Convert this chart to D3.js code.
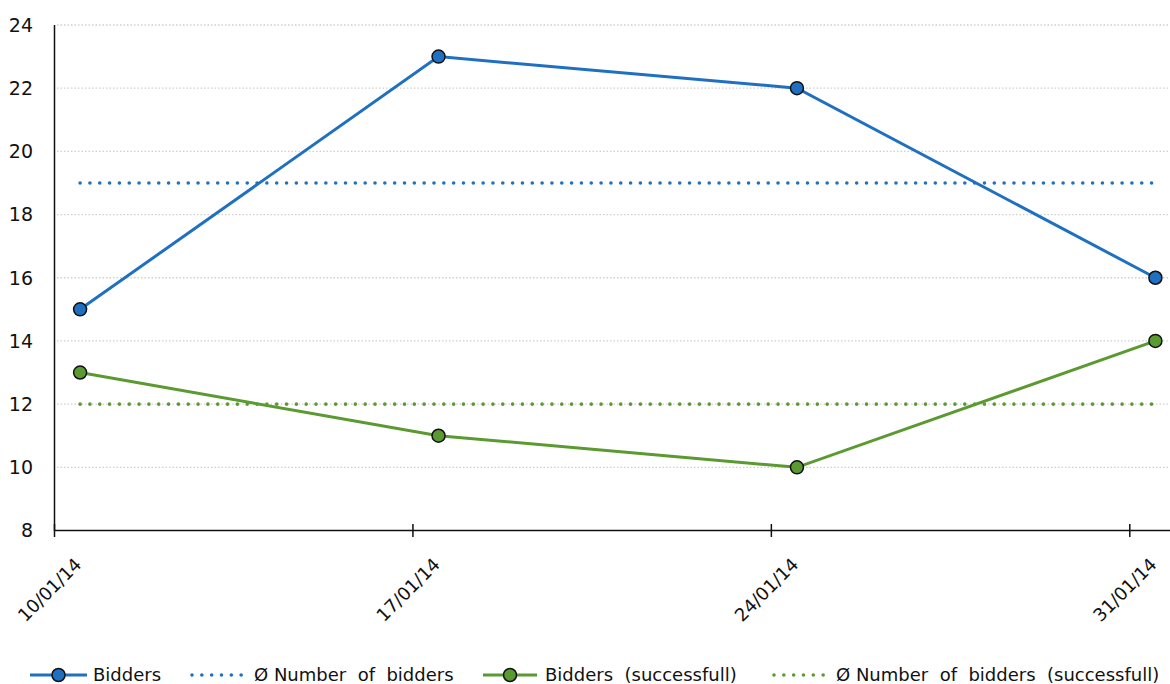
<!DOCTYPE html>
<html>
<head>
<meta charset="utf-8">
<script src="https://cdn.jsdelivr.net/npm/d3@7"></script>
<style>
  html, body { margin: 0; padding: 0; background: #fff; }
  svg { display: block; font-family: "DejaVu Sans", "Liberation Sans", sans-serif; }
</style>
</head>
<body>
<svg id="chart" width="1170" height="684"></svg>
<script>
// ---- data ----
const dates = ["2014-01-10", "2014-01-17", "2014-01-24", "2014-01-31"];
const dateLabels = ["10/01/14", "17/01/14", "24/01/14", "31/01/14"];
const bidders = [15, 23, 22, 16];
const biddersSuccessful = [13, 11, 10, 14];
const avgBidders = 19;
const avgBiddersSuccessful = 12;
const yTicks = [8, 10, 12, 14, 16, 18, 20, 22, 24];
const legendLabels = ["Bidders", "Ø Number  of  bidders", "Bidders  (successfull)", "Ø Number  of  bidders  (successfull)"];

const blue = "#1f70c1";
const green = "#5a9a30";

const svg = d3.select("#chart");
const parse = d3.utcParse("%Y-%m-%d");
const tickDates = dates.map(parse);
const pointDates = tickDates.map(d => d3.utcHour.offset(d, 12));

const x = d3.scaleUtc()
  .domain([parse("2014-01-10"), parse("2014-02-01")])
  .range([54.5, 1181]);
const y = d3.scaleLinear().domain([8, 24]).range([530.5, 25]);

// gridlines
svg.append("g").selectAll("line")
  .data(yTicks.filter(v => v !== 8))
  .join("line")
  .attr("x1", 57).attr("x2", 1170)
  .attr("y1", d => y(d)).attr("y2", d => y(d))
  .attr("stroke", "#cfcfcf").attr("stroke-width", 1.3)
  .attr("stroke-dasharray", "1.5,2");

// y axis labels
svg.append("g").selectAll("text")
  .data(yTicks)
  .join("text")
  .attr("x", 33).attr("y", d => y(d))
  .attr("dy", "0.36em")
  .attr("text-anchor", "end")
  .attr("font-size", 19)
  .attr("fill", "#111")
  .text(d => d);

// axes lines
svg.append("line").attr("x1", 54.5).attr("x2", 54.5).attr("y1", 25).attr("y2", 531)
  .attr("stroke", "#111").attr("stroke-width", 1.5);
svg.append("line").attr("x1", 54).attr("x2", 1170).attr("y1", 530.5).attr("y2", 530.5)
  .attr("stroke", "#111").attr("stroke-width", 1.5);

// x ticks
svg.append("g").selectAll("line")
  .data(tickDates)
  .join("line")
  .attr("x1", d => x(d)).attr("x2", d => x(d))
  .attr("y1", 524).attr("y2", 537)
  .attr("stroke", "#111").attr("stroke-width", 1.5);

// x labels
svg.append("g").selectAll("text")
  .data(pointDates)
  .join("text")
  .attr("transform", d => `translate(${x(d) - 7},${556}) rotate(-45)`)
  .attr("text-anchor", "end")
  .attr("dy", "0.75em")
  .attr("font-size", 18)
  .attr("fill", "#111")
  .text((d, i) => dateLabels[i]);

// average lines
function avgLine(val, color) {
  svg.append("line")
    .attr("x1", x(pointDates[0])).attr("x2", x(pointDates[pointDates.length - 1]))
    .attr("y1", y(val)).attr("y2", y(val))
    .attr("stroke", color).attr("stroke-width", 3.6)
    .attr("stroke-linecap", "round")
    .attr("stroke-dasharray", "0,9.83");
}
avgLine(avgBidders, blue);
avgLine(avgBiddersSuccessful, green);

// series lines
const line = d3.line().x((d, i) => x(pointDates[i])).y(d => y(d));
function series(vals, color) {
  svg.append("path").datum(vals)
    .attr("d", line)
    .attr("fill", "none").attr("stroke", color).attr("stroke-width", 3);
  svg.append("g").selectAll("circle")
    .data(vals)
    .join("circle")
    .attr("cx", (d, i) => x(pointDates[i])).attr("cy", d => y(d))
    .attr("r", 6.5)
    .attr("fill", color).attr("stroke", "#111").attr("stroke-width", 1.5);
}
series(bidders, blue);
series(biddersSuccessful, green);

// legend
const ly = 675;
const legend = svg.append("g");
const items = [
  { type: "line", color: blue, x0: 30, x1: 87, tx: 93 },
  { type: "dot", color: blue, x0: 192, x1: 242, tx: 254 },
  { type: "line", color: green, x0: 483, x1: 537, tx: 545 },
  { type: "dot", color: green, x0: 774, x1: 824, tx: 836 }
];
items.forEach((it, i) => {
  if (it.type === "line") {
    legend.append("line").attr("x1", it.x0).attr("x2", it.x1).attr("y1", ly).attr("y2", ly)
      .attr("stroke", it.color).attr("stroke-width", 3);
    legend.append("circle").attr("cx", (it.x0 + it.x1) / 2).attr("cy", ly).attr("r", 6.5)
      .attr("fill", it.color).attr("stroke", "#111").attr("stroke-width", 1.5);
  } else {
    legend.append("line").attr("x1", it.x0).attr("x2", it.x1).attr("y1", ly).attr("y2", ly)
      .attr("stroke", it.color).attr("stroke-width", 3.6)
      .attr("stroke-linecap", "round").attr("stroke-dasharray", "0,9.83");
  }
  legend.append("text")
    .attr("x", it.tx).attr("y", ly).attr("dy", "0.36em")
    .attr("font-size", 18).attr("fill", "#111")
    .attr("xml:space", "preserve")
    .style("white-space", "pre")
    .text(legendLabels[i]);
});
</script>
</body>
</html>
